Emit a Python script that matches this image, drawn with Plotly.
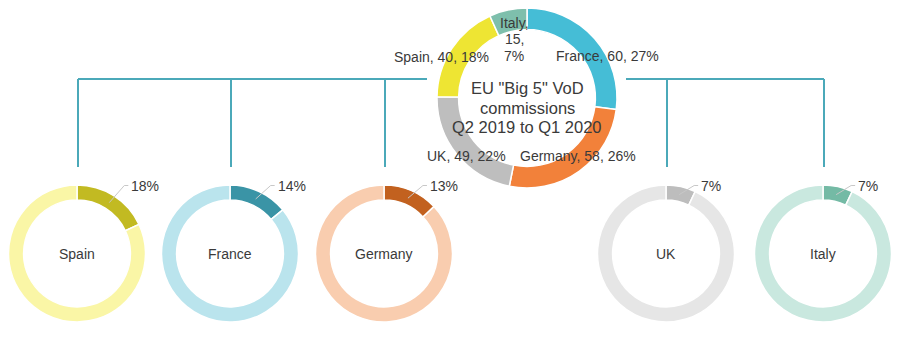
import numpy as np
import plotly.graph_objects as go

# ---- data ----
countries = ["France", "Germany", "UK", "Spain", "Italy"]
commissions = [60, 58, 49, 40, 15]
main_colors = ["#45BDD6", "#F2813A", "#BEBEBE", "#EEE533", "#7EBFAC"]

small_countries = ["Spain", "France", "Germany", "UK", "Italy"]
small_pct = [18, 14, 13, 7, 7]
small_dark = ["#C2BA22", "#3A94A6", "#C2611F", "#BDBDBD", "#74BAA5"]
small_light = ["#FAF6A6", "#BAE4ED", "#F9CDAF", "#E6E6E6", "#C9E8DF"]

center_title_lines = ['EU "Big 5" VoD', "commissions", "Q2 2019 to Q1 2020"]

# ---- layout geometry (pixels) ----
W, H = 900, 352
FONT = "Liberation Sans, Arial, sans-serif"
TXT = "#3A3A3A"
LINE = "#4BA9B9"


def px(x):
    return x / W


def py(y):
    return 1 - y / H


fig = go.Figure()

# central donut
cx0, cy0, r0 = 527, 98, 90
fig.add_trace(go.Pie(
    labels=countries, values=commissions, sort=False, direction="clockwise",
    rotation=0, hole=0.76, textinfo="none", hoverinfo="label+value+percent",
    marker=dict(colors=main_colors, line=dict(color="white", width=1.5)),
    domain=dict(x=[px(cx0 - r0), px(cx0 + r0)], y=[py(cy0 + r0), py(cy0 - r0)]),
    showlegend=False,
))

total = sum(commissions)
main_label_pos = {
    "France": (607, 56),
    "Germany": (578, 156),
    "UK": (467, 156),
    "Spain": (441, 57),
    "Italy": (514, 39.5),
}
annotations = []


def add_text(x, y, text, size, anchor="center"):
    annotations.append(dict(x=px(x), y=py(y), xref="paper", yref="paper", text=text,
                            showarrow=False, font=dict(family=FONT, size=size, color=TXT),
                            xanchor=anchor, yanchor="middle"))


for c, v in zip(countries, commissions):
    pct = round(100 * v / total)
    x, y = main_label_pos[c]
    if c == "Italy":
        for k, part in enumerate([f"{c},", f"{v},", f"{pct}%"]):
            add_text(x, y + (k - 1) * 16.5, part, 14)
    else:
        add_text(x, y, f"{c}, {v}, {pct}%", 14)

for k, line in enumerate(center_title_lines):
    add_text(cx0, 88 + k * 19.5, line, 16.5)

# small donuts
small_cx = [77, 230, 384, 666, 823]
scy, sr = 253.5, 68.5
shapes = []
for i, (c, p) in enumerate(zip(small_countries, small_pct)):
    cx = small_cx[i]
    fig.add_trace(go.Pie(
        labels=[c, "Other"], values=[p, 100 - p], sort=False, direction="clockwise",
        rotation=0, hole=0.78, textinfo="none", hoverinfo="label+percent",
        marker=dict(colors=[small_dark[i], small_light[i]], line=dict(color="white", width=1.5)),
        domain=dict(x=[px(cx - sr), px(cx + sr)], y=[py(scy + sr), py(scy - sr)]),
        showlegend=False,
    ))
    add_text(cx, scy, c, 14)
    # leader line
    theta = np.deg2rad(p / 100 * 360 / 2)
    sx = cx + 0.88 * sr * np.sin(theta)
    sy = scy - 0.88 * sr * np.cos(theta)
    ey = scy - sr + 0.5
    ex = sx + 15
    shapes.append(dict(type="line", xref="paper", yref="paper", x0=px(sx), y0=py(sy),
                       x1=px(ex), y1=py(ey), line=dict(color="#C8C8C8", width=1)))
    shapes.append(dict(type="line", xref="paper", yref="paper", x0=px(ex), y0=py(ey),
                       x1=px(ex + 4), y1=py(ey), line=dict(color="#C8C8C8", width=1)))
    add_text(ex + 5, ey, f"{p}%", 14, anchor="left")

# connectors
hy = 79
bottom = 167
shapes.append(dict(type="line", xref="paper", yref="paper", x0=px(small_cx[0] + 1), y0=py(hy),
                   x1=px(427), y1=py(hy), line=dict(color=LINE, width=2)))
shapes.append(dict(type="line", xref="paper", yref="paper", x0=px(626), y0=py(hy),
                   x1=px(small_cx[4] + 1), y1=py(hy), line=dict(color=LINE, width=2)))
for cx in small_cx:
    shapes.append(dict(type="line", xref="paper", yref="paper", x0=px(cx + 1), y0=py(hy),
                       x1=px(cx + 1), y1=py(bottom), line=dict(color=LINE, width=2)))

fig.update_layout(
    width=W, height=H, margin=dict(l=0, r=0, t=0, b=0),
    paper_bgcolor="white", plot_bgcolor="white",
    shapes=shapes, annotations=annotations,
    font=dict(family=FONT, color=TXT),
)

fig.write_html("out.html")
